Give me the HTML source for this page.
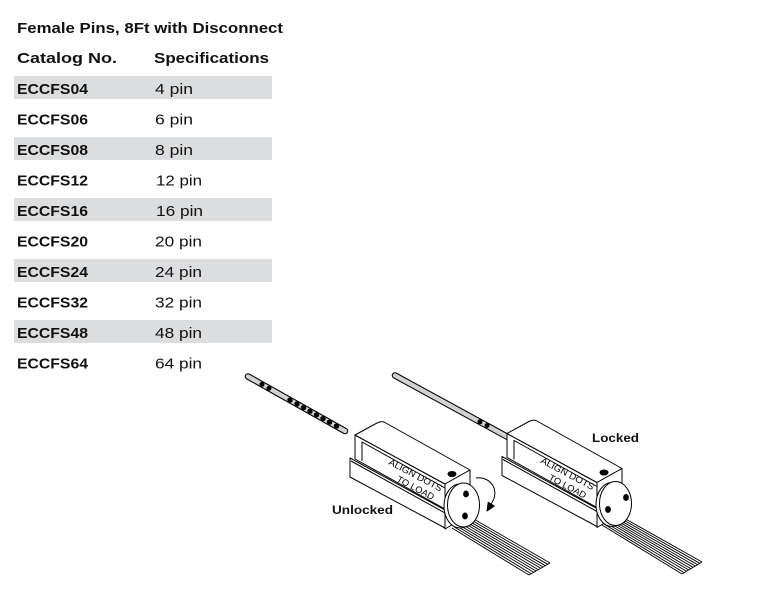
<!DOCTYPE html>
<html><head><meta charset="utf-8"><style>
html,body{margin:0;padding:0;background:#fff;}
svg{display:block;}
</style></head><body>
<svg width="768" height="608" viewBox="0 0 768 608" xmlns="http://www.w3.org/2000/svg">
<rect width="768" height="608" fill="#fff"/>
<!-- table bands -->
<g fill="#dcdddf">
<rect x="14" y="76" width="258" height="23"/>
<rect x="14" y="137" width="258" height="23"/>
<rect x="14" y="198" width="258" height="23"/>
<rect x="14" y="259" width="258" height="23"/>
<rect x="14" y="320" width="258" height="23"/>
</g>
<g font-family="'Liberation Sans', sans-serif" font-size="15" fill="#111">
<text x="17" y="33" font-weight="bold" textLength="266" lengthAdjust="spacingAndGlyphs">Female Pins, 8Ft with Disconnect</text>
<text x="17" y="63" font-weight="bold" textLength="100" lengthAdjust="spacingAndGlyphs">Catalog No.</text>
<text x="154" y="63" font-weight="bold" textLength="115" lengthAdjust="spacingAndGlyphs">Specifications</text>
<g font-weight="bold">
<text x="17" y="94" textLength="71" lengthAdjust="spacingAndGlyphs">ECCFS04</text>
<text x="17" y="124.5" textLength="71" lengthAdjust="spacingAndGlyphs">ECCFS06</text>
<text x="17" y="155" textLength="71" lengthAdjust="spacingAndGlyphs">ECCFS08</text>
<text x="17" y="185.5" textLength="71" lengthAdjust="spacingAndGlyphs">ECCFS12</text>
<text x="17" y="216" textLength="71" lengthAdjust="spacingAndGlyphs">ECCFS16</text>
<text x="17" y="246.5" textLength="71" lengthAdjust="spacingAndGlyphs">ECCFS20</text>
<text x="17" y="277" textLength="71" lengthAdjust="spacingAndGlyphs">ECCFS24</text>
<text x="17" y="307.5" textLength="71" lengthAdjust="spacingAndGlyphs">ECCFS32</text>
<text x="17" y="338" textLength="71" lengthAdjust="spacingAndGlyphs">ECCFS48</text>
<text x="17" y="368.5" textLength="71" lengthAdjust="spacingAndGlyphs">ECCFS64</text>
</g>
<g>
<text x="155" y="94" textLength="38" lengthAdjust="spacingAndGlyphs">4 pin</text>
<text x="155" y="124.5" textLength="38" lengthAdjust="spacingAndGlyphs">6 pin</text>
<text x="155" y="155" textLength="38" lengthAdjust="spacingAndGlyphs">8 pin</text>
<text x="156" y="185.5" textLength="46" lengthAdjust="spacingAndGlyphs">12 pin</text>
<text x="156" y="216" textLength="47" lengthAdjust="spacingAndGlyphs">16 pin</text>
<text x="155" y="246.5" textLength="47" lengthAdjust="spacingAndGlyphs">20 pin</text>
<text x="155" y="277" textLength="47" lengthAdjust="spacingAndGlyphs">24 pin</text>
<text x="155" y="307.5" textLength="47" lengthAdjust="spacingAndGlyphs">32 pin</text>
<text x="155" y="338" textLength="47" lengthAdjust="spacingAndGlyphs">48 pin</text>
<text x="155" y="368.5" textLength="47" lengthAdjust="spacingAndGlyphs">64 pin</text>
</g>
</g>

<!-- ribbons -->
<g stroke="#000" stroke-width="0.9" fill="none">
<line x1="452" y1="528" x2="529" y2="575"/>
<line x1="454.2" y1="526.9" x2="531.3" y2="573.7"/>
<line x1="456.4" y1="525.8" x2="533.7" y2="572.3"/>
<line x1="458.7" y1="524.7" x2="536" y2="571"/>
<line x1="460.9" y1="523.6" x2="538.3" y2="569.7"/>
<line x1="463.1" y1="522.4" x2="540.7" y2="568.3"/>
<line x1="465.3" y1="521.3" x2="543" y2="567"/>
<line x1="467.6" y1="520.2" x2="545.3" y2="565.7"/>
<line x1="469.8" y1="519.1" x2="547.7" y2="564.3"/>
<line x1="472" y1="518" x2="550" y2="563"/>
<line x1="529" y1="575" x2="550" y2="563"/>

<line x1="602" y1="525" x2="682" y2="574"/>
<line x1="604.2" y1="524.1" x2="684.2" y2="572.7"/>
<line x1="606.4" y1="523.2" x2="686.4" y2="571.3"/>
<line x1="608.7" y1="522.3" x2="688.7" y2="570"/>
<line x1="610.9" y1="521.4" x2="690.9" y2="568.7"/>
<line x1="613.1" y1="520.6" x2="693.1" y2="567.3"/>
<line x1="615.3" y1="519.7" x2="695.3" y2="566"/>
<line x1="617.6" y1="518.8" x2="697.6" y2="564.7"/>
<line x1="619.8" y1="517.9" x2="699.8" y2="563.3"/>
<line x1="622" y1="517" x2="702" y2="562"/>
<line x1="682" y1="574" x2="702" y2="562"/>
</g>

<!-- cables -->
<line x1="248" y1="376.5" x2="345" y2="431" stroke="#000" stroke-width="6.5" stroke-linecap="round"/>
<line x1="248" y1="376.5" x2="345" y2="431" stroke="#d2d2d2" stroke-width="4.4" stroke-linecap="round"/>
<g fill="#000">
<ellipse cx="262" cy="384.3" rx="2.5" ry="2.5"/>
<ellipse cx="269" cy="388.3" rx="2.5" ry="2.5"/>
<ellipse cx="290" cy="400.1" rx="2.8" ry="2.4" transform="rotate(29 290 400.1)"/>
<ellipse cx="297" cy="404" rx="2.8" ry="2.4" transform="rotate(29 297 404)"/>
<ellipse cx="303.5" cy="407.7" rx="2.8" ry="2.4" transform="rotate(29 303.5 407.7)"/>
<ellipse cx="310" cy="411.3" rx="2.8" ry="2.4" transform="rotate(29 310 411.3)"/>
<ellipse cx="316.5" cy="414.9" rx="2.8" ry="2.4" transform="rotate(29 316.5 414.9)"/>
<ellipse cx="323" cy="418.6" rx="2.8" ry="2.4" transform="rotate(29 323 418.6)"/>
<ellipse cx="329.5" cy="422.2" rx="2.8" ry="2.4" transform="rotate(29 329.5 422.2)"/>
<ellipse cx="336.5" cy="426.1" rx="2.8" ry="2.4" transform="rotate(29 336.5 426.1)"/>
</g>

<line x1="395" y1="375.5" x2="515" y2="441" stroke="#000" stroke-width="6.5" stroke-linecap="round"/>
<line x1="395" y1="375.5" x2="515" y2="441" stroke="#d2d2d2" stroke-width="4.4" stroke-linecap="round"/>
<circle cx="480" cy="421.8" r="2.5" fill="#000"/>
<circle cx="487" cy="425.6" r="2.5" fill="#000"/>

<!-- left box -->
<g stroke="#000" stroke-width="1" fill="#fff" stroke-linejoin="round">
<polygon points="350,458 445,510 445,528 350,477"/>
<line x1="351" y1="461" x2="445" y2="513"/>
<polygon points="355,435 445,484 445,509 355,459"/>
<polyline fill="none" points="362,461 362,442 445,488"/>
<path d="M355,435 L377,423 Q381,421 384,422 L470,470 L445,484 Z"/>
<polygon points="445,484 470,470 470,514 445,529"/>
<ellipse cx="452" cy="474" rx="4" ry="2.5" fill="#000"/>
<ellipse cx="460" cy="506" rx="16" ry="22"/>
<ellipse cx="463.5" cy="505" rx="16" ry="22"/>
<ellipse cx="466" cy="494" rx="2.4" ry="3" fill="#000"/>
<ellipse cx="465" cy="516" rx="2.4" ry="3" fill="#000"/>
<path d="M476,478 C490,476 501,490 491,504" fill="none"/>
<polygon points="487,511 488.2,502.3 494.2,506.1" fill="#000"/>
</g>
<g font-family="'Liberation Sans', sans-serif" font-size="9" fill="#000">
<text transform="translate(388,464) rotate(28)" textLength="59" lengthAdjust="spacingAndGlyphs">ALIGN DOTS</text>
<text transform="translate(396,481) rotate(28)" textLength="41" lengthAdjust="spacingAndGlyphs">TO LOAD</text>
</g>

<!-- right box -->
<g transform="translate(152,-1.5)">
<g stroke="#000" stroke-width="1" fill="#fff" stroke-linejoin="round">
<polygon points="350,458 445,510 445,528 350,477"/>
<line x1="351" y1="461" x2="445" y2="513"/>
<polygon points="355,435 445,484 445,509 355,459"/>
<polyline fill="none" points="362,461 362,442 445,488"/>
<path d="M355,435 L377,423 Q381,421 384,422 L470,470 L445,484 Z"/>
<polygon points="445,484 470,470 470,514 445,529"/>
<ellipse cx="452" cy="474" rx="4" ry="2.5" fill="#000"/>
<ellipse cx="460" cy="506" rx="16" ry="22"/>
<ellipse cx="463.5" cy="505" rx="16" ry="22"/>
<ellipse cx="474" cy="499" rx="2.4" ry="3" fill="#000"/>
<ellipse cx="456" cy="511" rx="2.4" ry="3" fill="#000"/>
</g>
<g font-family="'Liberation Sans', sans-serif" font-size="9" fill="#000">
<text transform="translate(388,464) rotate(28)" textLength="59" lengthAdjust="spacingAndGlyphs">ALIGN DOTS</text>
<text transform="translate(396,481) rotate(28)" textLength="41" lengthAdjust="spacingAndGlyphs">TO LOAD</text>
</g>
</g>

<!-- labels -->
<g font-family="'Liberation Sans', sans-serif" font-size="12" font-weight="bold" fill="#111">
<text x="332" y="514" textLength="61" lengthAdjust="spacingAndGlyphs">Unlocked</text>
<text x="592" y="442" textLength="47" lengthAdjust="spacingAndGlyphs">Locked</text>
</g>
</svg>
</body></html>
